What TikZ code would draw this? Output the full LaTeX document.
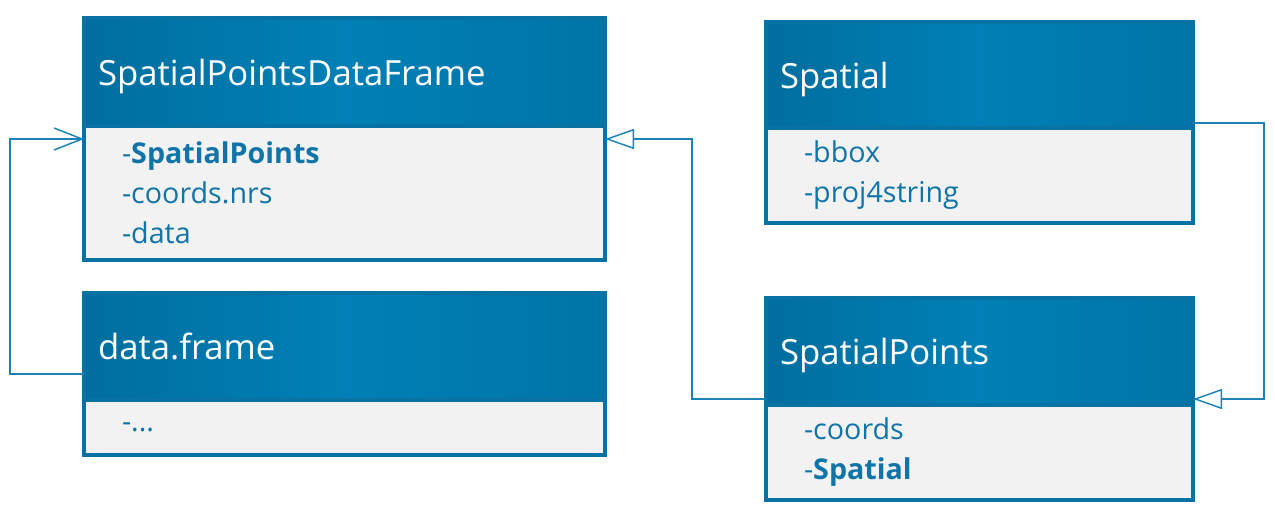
\documentclass[tikz,border=0pt]{standalone}
\usepackage{fontspec}
\setmainfont{Open Sans}
\usetikzlibrary{arrows.meta,calc}
\definecolor{hdA}{RGB}{0,110,158}
\definecolor{hdB}{RGB}{0,128,182}
\definecolor{hdC}{RGB}{0,116,166}
\definecolor{bord}{RGB}{8,114,164}
\definecolor{txt}{RGB}{16,116,168}
\definecolor{bodyfill}{RGB}{242,242,242}
\definecolor{conncol}{RGB}{28,130,184}
\tikzset{
  hdr/.style={draw=bord, line width=2.3pt, left color=hdA, right color=hdC, middle color=hdB,
    text=white, font=\fontsize{26}{30}\selectfont, anchor=north west, inner xsep=10.5pt,
    inner ysep=0pt, outer sep=0pt, align=left, text height=21pt, text depth=1.5pt},
  bdy/.style={draw=bord, line width=2.3pt, fill=bodyfill, text=txt,
    font=\fontsize{21.5}{30}\selectfont, anchor=north west, inner xsep=28.5pt,
    inner ysep=0pt, outer sep=0pt, align=left},
  conn/.style={draw=conncol, line width=1.1pt},
  gen/.style={-{Triangle[open, length=21.75pt, width=15pt, line width=1.1pt]}},
  assoc/.style={-{Straight Barb[length=21pt, width=16.5pt, line width=1.1pt]}}
}
\begin{document}
\begin{tikzpicture}[x=0.75pt, y=-0.75pt]
\useasboundingbox (0,0) rectangle (1275,504);
% SpatialPointsDataFrame
\node[bdy, text width=333.75pt, minimum height=100.5pt] (spdfb) at (84,126)
  {-\textbf{SpatialPoints}\\-coords.nrs\\-data};
\node[hdr, text width=369.75pt, minimum height=81pt] (spdfh) at (84,18) {SpatialPointsDataFrame};
% data.frame
\node[bdy, text width=333.75pt, minimum height=41.25pt] (dfb) at (84,400) {-...};
\node[hdr, text width=369.75pt, minimum height=80.25pt] (dfh) at (84,293) {data.frame};
% Spatial
\node[bdy, text width=263.25pt, minimum height=71.25pt] (sb) at (766,128) {-bbox\\-proj4string};
\node[hdr, text width=299.25pt, minimum height=79.5pt] (sh) at (766,22) {Spatial};
% SpatialPoints
\node[bdy, text width=263.25pt, minimum height=71.25pt] (spb) at (766,405) {-coords\\-\textbf{Spatial}};
\node[hdr, text width=299.25pt, minimum height=80.25pt] (sph) at (766,298) {SpatialPoints};
% connectors
\draw[conn, assoc] ($(dfh.north west)+(0,81)$) -- ++(-74,0) |- ($(spdfb.north west)+(0,13)$);
\draw[conn, gen] ($(sph.north west)+(0,101)$) -- ++(-74,0) |- ($(spdfb.north east)+(0,13)$);
\draw[conn, gen] ($(sh.north east)+(0,101)$) -- ++(71,0) |- ($(sph.north east)+(0,101)$);
\end{tikzpicture}
\end{document}
